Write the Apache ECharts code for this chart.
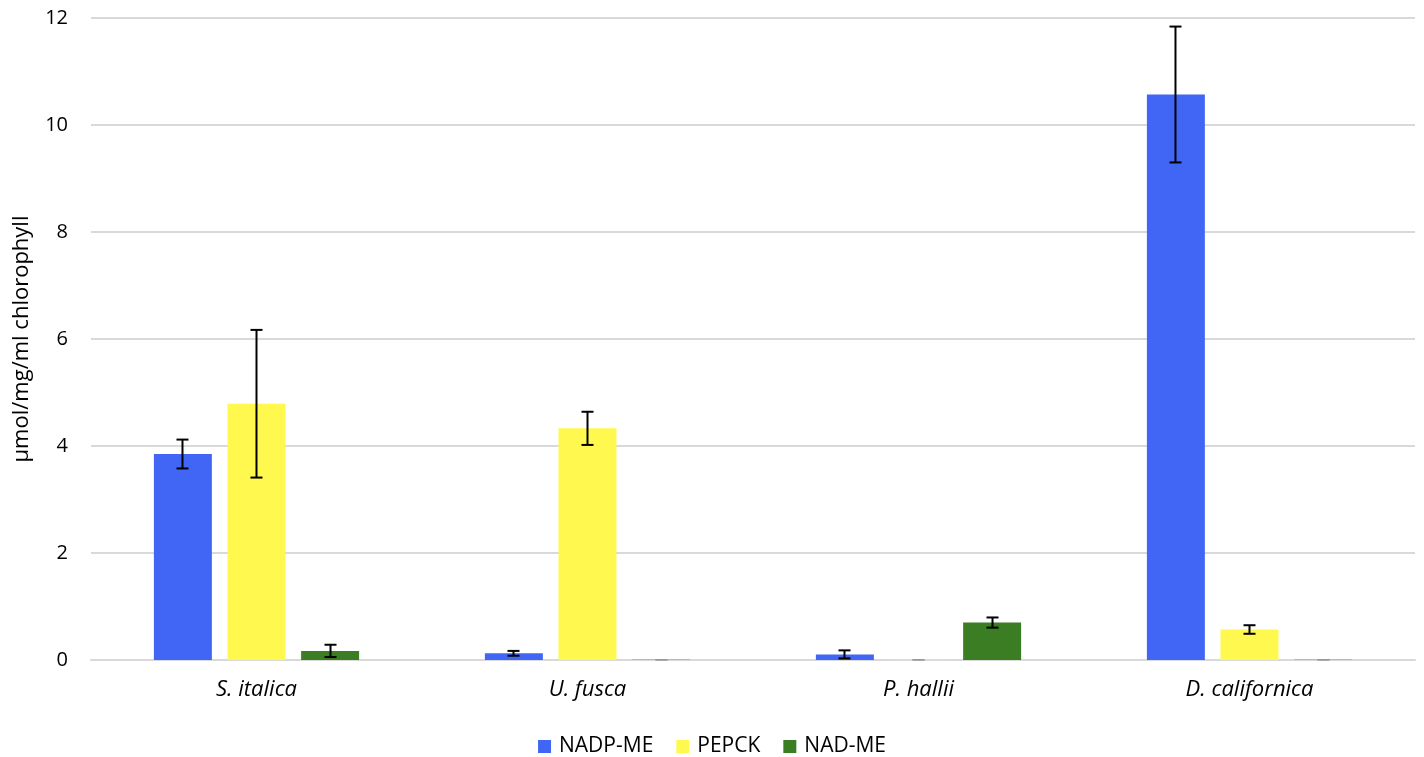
<!DOCTYPE html>
<html>
<head>
<meta charset="utf-8">
<script src="https://cdn.jsdelivr.net/npm/echarts@6/dist/echarts.min.js"></script>
<style>html,body{margin:0;padding:0;background:#fff}#chart{width:1424px;height:757px}</style>
</head>
<body>
<div id="chart"></div>
<script>
var categories = ['S. italica', 'U. fusca', 'P. hallii', 'D. californica'];
var seriesNames = ['NADP-ME', 'PEPCK', 'NAD-ME'];
var nadpMe = [3.85, 0.125, 0.105, 10.57];
var nadpMeErr = [0.27, 0.045, 0.075, 1.27];
var pepck = [4.79, 4.33, 0.005, 0.57];
var pepckErr = [1.38, 0.31, 0, 0.08];
var nadMe = [0.17, 0.005, 0.70, 0.005];
var nadMeErr = [0.115, 0, 0.095, 0];
var yTicks = [0, 2, 4, 6, 8, 10, 12];

var colors = ['#4166F5', '#FFF84F', '#3A7D22'];
var values = [nadpMe, pepck, nadMe];
var errors = [nadpMeErr, pepckErr, nadMeErr];

var chart = echarts.init(document.getElementById('chart'), null, {renderer: 'canvas'});
var FONT = '"Open Sans", sans-serif';

var series = [];
values.forEach(function (vals, si) {
  series.push({
    name: seriesNames[si],
    type: 'bar',
    data: vals,
    itemStyle: {color: colors[si]},
    barCategoryGap: '38%',
    barGap: '27%',
    z: 2
  });
});
values.forEach(function (vals, si) {
  var errData = vals.map(function (v, i) { return [i, v, errors[si][i]]; });
  series.push({
    type: 'custom',
    name: seriesNames[si] + ' err',
    data: errData,
    z: 5,
    silent: true,
    tooltip: {show: false},
    renderItem: function (params, api) {
      var ci = api.value(0), v = api.value(1), e = api.value(2);
      var band = api.size([1, 0])[0];
      var offset = (si - 1) * band * 0.2236;
      var top = api.coord([ci, v + e]);
      var bot = api.coord([ci, Math.max(v - e, 0)]);
      var x = top[0] + offset;
      var hw = 6;
      var st = {stroke: e > 0 ? '#000' : '#999', lineWidth: e > 0 ? 2 : 1.5};
      return {
        type: 'group',
        children: [
          {type: 'line', shape: {x1: x, y1: top[1], x2: x, y2: bot[1]}, style: st},
          {type: 'line', shape: {x1: x - hw, y1: top[1], x2: x + hw, y2: top[1]}, style: st},
          {type: 'line', shape: {x1: x - hw, y1: bot[1], x2: x + hw, y2: bot[1]}, style: st}
        ]
      };
    }
  });
});

chart.setOption({
  animation: false,
  backgroundColor: '#fff',
  grid: {left: 91, right: 9, top: 18, bottom: 97, containLabel: false},
  legend: {
    data: seriesNames,
    top: 736,
    padding: 0,
    left: 'center',
    itemWidth: 13,
    itemHeight: 13,
    itemGap: 23,
    icon: 'rect',
    textStyle: {fontFamily: FONT, fontSize: 21, color: '#000', padding: [0, 0, 0, 3]}
  },
  xAxis: {
    type: 'category',
    data: categories,
    axisLine: {show: true, lineStyle: {color: '#d9d9d9', width: 2}},
    axisTick: {show: false},
    axisLabel: {fontFamily: FONT, fontSize: 22, fontStyle: 'italic', color: '#000', margin: 19}
  },
  yAxis: {
    type: 'value',
    min: 0,
    max: 12,
    interval: 2,
    name: 'µmol/mg/ml chlorophyll',
    nameLocation: 'middle',
    nameGap: 58,
    nameRotate: 90,
    nameTextStyle: {fontFamily: FONT, fontSize: 22, color: '#000'},
    axisLine: {show: false},
    axisTick: {show: false},
    axisLabel: {fontFamily: FONT, fontSize: 20, color: '#000', margin: 23,
      formatter: function (v) { return yTicks.indexOf(v) >= 0 ? String(v) : ''; }},
    splitLine: {lineStyle: {color: '#d9d9d9', width: 2}}
  },
  series: series
});
</script>
</body>
</html>
